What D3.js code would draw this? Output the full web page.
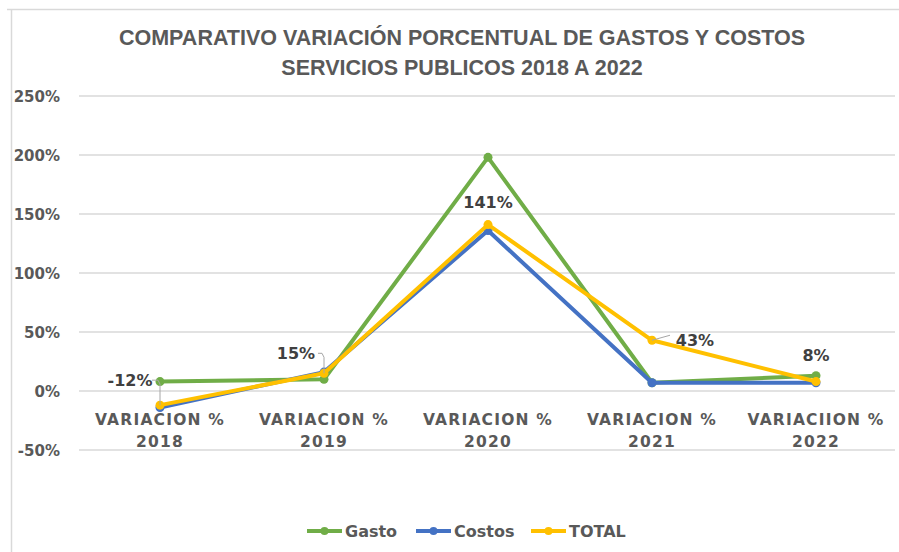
<!DOCTYPE html>
<html><head><meta charset="utf-8">
<script src="https://cdn.jsdelivr.net/npm/d3@7"></script>
<style>body{margin:0;background:#fff}svg{display:block}</style>
</head><body>
<svg id="c" width="899" height="552"></svg>
<script>
const categories = [["VARIACION %","2018"],["VARIACION %","2019"],["VARIACION %","2020"],["VARIACION %","2021"],["VARIACIION %","2022"]];
const gasto  = [0.08, 0.10, 1.98, 0.07, 0.13];
const costos = [-0.14, 0.16, 1.36, 0.07, 0.07];
const total  = [-0.12, 0.15, 1.41, 0.43, 0.08];
const yTicks = [-0.5, 0, 0.5, 1, 1.5, 2, 2.5];
const titleLines = ["COMPARATIVO VARIACIÓN PORCENTUAL DE GASTOS Y COSTOS","SERVICIOS PUBLICOS 2018 A 2022"];
const seriesNames = ["Gasto","Costos","TOTAL"];
const colors = ["#70AD47","#4472C4","#FFC000"];

const svg = d3.select("#c");
const font = "'DejaVu Sans', sans-serif";
const gray = "#595959";
const pct = d => d3.format(".0%")(d).replace("\u2212","-");

// border
svg.append("path").attr("d","M7,9.5 H899 M11.5,9.5 V552").attr("stroke","#d9d9d9").attr("stroke-width",1.5).attr("fill","none");

// title
svg.append("g").selectAll("text").data(titleLines).join("text")
  .attr("x",462).attr("y",(d,i)=>45+i*30).attr("text-anchor","middle")
  .attr("font-family","'Liberation Sans', sans-serif").attr("font-weight","bold").attr("font-size",21.5)
  .attr("fill",gray).text(d=>d);

const x = d3.scaleBand().domain(d3.range(categories.length)).range([78,898]);
const y = d3.scaleLinear().domain([-0.5,2.5]).range([450,96]);
const xc = i => x(i)+x.bandwidth()/2;

// gridlines + y axis
const yAxis = d3.axisLeft(y).tickValues(yTicks).tickFormat(pct).tickSize(0).tickPadding(0);
const ga = svg.append("g").attr("transform","translate(60,0)").call(yAxis);
ga.select(".domain").remove();
ga.selectAll("text").attr("font-family",font).attr("font-weight","bold").attr("font-size",15).attr("fill",gray).attr("dy","0.35em");
svg.append("g").selectAll("line").data(yTicks).join("line")
  .attr("x1",79).attr("x2",895).attr("y1",d=>y(d)).attr("y2",d=>y(d))
  .attr("stroke","#d9d9d9").attr("stroke-width",1.5);

// category labels
const cl = svg.append("g").selectAll("text").data(categories).join("text")
  .attr("x",(d,i)=>xc(i)).attr("y",425).attr("text-anchor","middle")
  .attr("font-family",font).attr("font-weight","bold").attr("font-size",15.5).attr("letter-spacing",1.2).attr("fill",gray);
cl.append("tspan").attr("x",(d,i)=>xc(i)).attr("dy",0).text(d=>d[0]);
cl.append("tspan").attr("x",(d,i)=>xc(i)).attr("dy",22).text(d=>d[1]);

// lines
const allSeries = [gasto,costos,total];
const line = d3.line().x((d,i)=>xc(i)).y(d=>y(d));
allSeries.forEach((s,k)=>{
  svg.append("path").datum(s).attr("d",line).attr("fill","none").attr("stroke",colors[k]).attr("stroke-width",4).attr("stroke-linejoin","round");
  svg.append("g").selectAll("circle").data(s).join("circle").attr("cx",(d,i)=>xc(i)).attr("cy",d=>y(d)).attr("r",4.5).attr("fill",colors[k]);
});

// data labels for TOTAL
const lab = [
  {i:0, dx:-30, dy:-25, leader:true},
  {i:1, dx:-28, dy:-20, leader:true},
  {i:2, dx:0, dy:-22, leader:false},
  {i:3, dx:43, dy:0, leader:true},
  {i:4, dx:0, dy:-26, leader:false}
];
const lg = svg.append("g");
lab.forEach(l=>{
  const px = xc(l.i), py = y(total[l.i]);
  const tx = px+l.dx, ty = py+l.dy;
  if(l.leader){
    let d;
    if(l.i===3) d = `M${px},${py} L${px+18},${py-5}`;
    else d = `M${tx+22},${ty} H${px-2} L${px},${ty+4} V${py}`;
    lg.append("path").attr("d",d).attr("fill","none").attr("stroke","#a6a6a6").attr("stroke-width",1);
  }
  lg.append("text").attr("x",tx).attr("y",ty).attr("dy","0.35em").attr("text-anchor","middle")
    .attr("font-family",font).attr("font-weight","bold").attr("font-size",16).attr("fill","#404040")
    .text(pct(total[l.i]));
});

// legend
const legX = [307,416,531];
const leg = svg.append("g");
seriesNames.forEach((n,k)=>{
  const g = leg.append("g").attr("transform",`translate(${legX[k]},531)`);
  g.append("line").attr("x1",0).attr("x2",35).attr("stroke",colors[k]).attr("stroke-width",4);
  g.append("circle").attr("cx",17.5).attr("r",4).attr("fill",colors[k]);
  g.append("text").attr("x",38).attr("dy","0.35em").attr("font-family",font).attr("font-weight","bold").attr("font-size",16).attr("fill",gray).text(n);
});
</script>
</body></html>
